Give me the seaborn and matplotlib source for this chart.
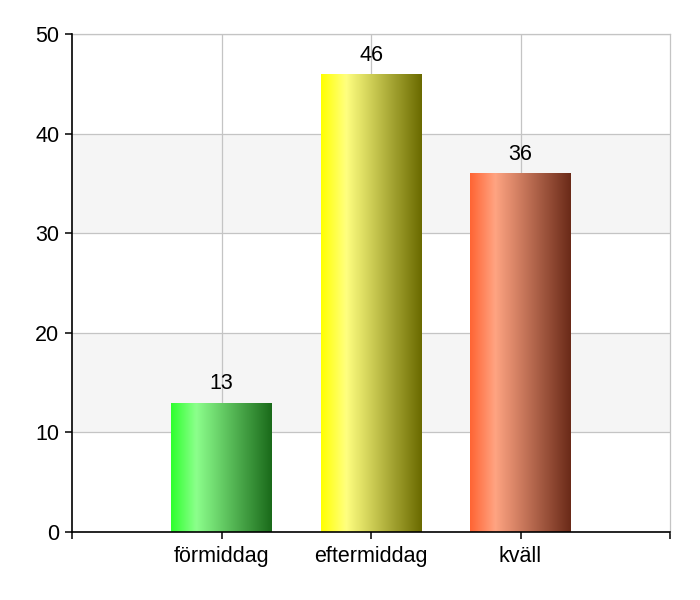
import numpy as np
import pandas as pd
import matplotlib
matplotlib.use("Agg")
import matplotlib.pyplot as plt
from matplotlib.colors import LinearSegmentedColormap
import seaborn as sns

categories = ["förmiddag", "eftermiddag", "kväll"]
values = [13, 46, 36]
positions = [1, 2, 3]
left_colors = ["#2eff2e", "#ffff00", "#ff6433"]
light_colors = ["#8cff8c", "#ffff80", "#ffa482"]
dark_colors = ["#1a6a1a", "#6a6a00", "#6a2a18"]
yticks = [0, 10, 20, 30, 40, 50]

sns.set_theme(style="white")
plt.rcParams["font.family"] = ["Liberation Sans", "DejaVu Sans"]

df = pd.DataFrame({"pos": positions, "cat": categories, "val": values})

fig = plt.figure(figsize=(7, 6), dpi=100)
ax = fig.add_axes([72 / 700, 1 - 532 / 600, (670 - 72) / 700, (532 - 34) / 600])

# alternating bands
for lo, hi in [(10, 20), (30, 40)]:
    ax.axhspan(lo, hi, color="#f5f5f5", zorder=0, lw=0)

n_before = len(ax.patches)
sns.barplot(data=df, x="pos", y="val", hue="cat", palette=left_colors,
            native_scale=True, width=0.67, dodge=False, legend=False, ax=ax,
            linewidth=0, zorder=3)
bars = [p for p in list(ax.patches)[n_before:] if p.get_height() > 0]
bars = sorted(bars, key=lambda p: p.get_x())

ax.set_xlim(0, 4)
ax.set_ylim(0, 50)

# gradient fill
grad = np.linspace(0, 1, 256).reshape(1, -1)
for i, p in enumerate(bars):
    cmap = LinearSegmentedColormap.from_list(
        f"g{i}", [(0, left_colors[i]), (0.25, light_colors[i]), (1, dark_colors[i])])
    x0, y0, w, h = p.get_x(), p.get_y(), p.get_width(), p.get_height()
    im = ax.imshow(grad, cmap=cmap, extent=[x0, x0 + w, y0, y0 + h],
                   aspect="auto", zorder=4, interpolation="bicubic")
    im.set_clip_path(p)
    ax.annotate(f"{values[i]}", (x0 + w / 2, y0 + h), xytext=(0, 6),
                textcoords="offset points", ha="center", va="bottom",
                fontsize=15.5, color="black", zorder=5)

ax.set_xlim(0, 4)
ax.set_ylim(0, 50)

ax.set_yticks(yticks)
ax.set_xticks([0] + positions + [4])
ax.set_xticklabels([""] + categories + [""])
ax.set_xlabel("")
ax.set_ylabel("")

ax.grid(True, axis="y", color="#c4c4c4", linewidth=0.9, zorder=1)
for xp in positions:
    ax.axvline(xp, color="#c4c4c4", linewidth=0.9, zorder=1)
ax.set_axisbelow(True)

for side in ["top", "right"]:
    ax.spines[side].set_color("#c4c4c4")
    ax.spines[side].set_linewidth(0.9)
for side in ["left", "bottom"]:
    ax.spines[side].set_color("black")
    ax.spines[side].set_linewidth(1.2)
    ax.spines[side].set_zorder(6)

ax.tick_params(axis="both", direction="out", length=5, width=1.1,
               color="black", labelsize=15.5, labelcolor="black")
ax.tick_params(axis="y", pad=4, left=True)
ax.tick_params(axis="x", pad=5, bottom=True)

fig.savefig("out.png", dpi=100, facecolor="white")
